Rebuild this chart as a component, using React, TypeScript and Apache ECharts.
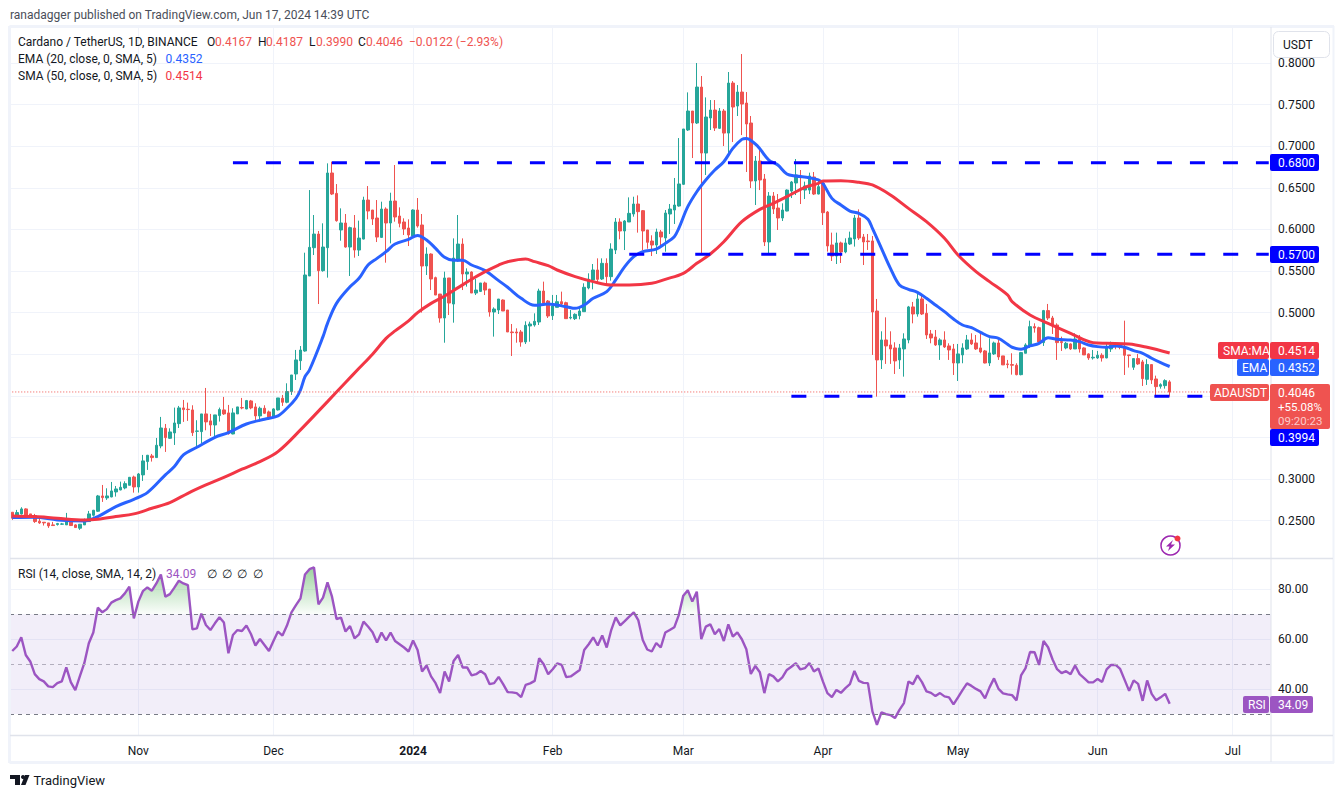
import React, { useEffect, useRef } from "react";
import * as echarts from "echarts";

// [open, close, low, high] per day, month by month
const octCandles = [
[.2600,.2528,.2508,.2600],[.2560,.2596,.2548,.2628],[.2580,.2640,.2572,.2660],[.2640,.2560,.2556,.2648],[.2580,.2540,.2536,.2580],[.2560,.2488,.2472,.2580],[.2492,.2472,.2460,.2536],[.2480,.2472,.2440,.2480],[.2472,.2436,.2412,.2472],[.2448,.2440,.2436,.2484],
[.2452,.2464,.2440,.2472],[.2456,.2460,.2448,.2472],[.2448,.2488,.2448,.2592],[.2508,.2440,.2436,.2516],[.2448,.2416,.2412,.2456],[.2408,.2456,.2388,.2456],[.2448,.2504,.2448,.2524],[.2488,.2580,.2488,.2616],[.2564,.2624,.2548,.2628],[.2612,.2796,.2604,.2808],
[.2796,.2776,.2724,.2928],[.2772,.2796,.2748,.2888],[.2784,.2856,.2780,.2964],[.2844,.2880,.2788,.2916],[.2868,.2900,.2864,.2968],[.2892,.2944,.2876,.2972],[.2924,.3020,.2924,.3024],[.3024,.2904,.2836,.3040],
];
const novCandles = [
[.2904,.3060,.2836,.3072],[.3049,.3217,.2976,.3289],[.3209,.3285,.3109,.3289],[.3277,.3257,.3209,.3301],[.3257,.3405,.3257,.3493],[.3397,.3613,.3369,.3746],[.3609,.3497,.3325,.3661],[.3489,.3565,.3481,.3609],[.3553,.3673,.3409,.3858],[.3665,.3854,.3613,.3878],
[.3854,.3834,.3686,.3950],[.3838,.3834,.3698,.3918],[.3830,.3557,.3517,.3886],[.3573,.3577,.3397,.3706],[.3569,.3782,.3429,.3782],[.3782,.3686,.3585,.4094],[.3698,.3649,.3517,.3782],[.3649,.3770,.3489,.3770],[.3762,.3834,.3690,.3858],[.3830,.3782,.3770,.3986],
[.3794,.3545,.3533,.3890],[.3541,.3794,.3537,.3850],[.3782,.3866,.3782,.3866],[.3858,.3854,.3838,.3974],[.3842,.3942,.3838,.3950],[.3938,.3854,.3838,.3950],[.3866,.3758,.3710,.3910],[.3758,.3850,.3690,.3870],[.3850,.3790,.3782,.3886],[.3806,.3746,.3710,.3822],
];
const decCandles = [
[.3742,.3842,.3738,.3850],[.3830,.3974,.3822,.3974],[.3970,.3922,.3878,.4010],[.3922,.4050,.3910,.4150],[.4050,.4250,.4010,.4250],[.4262,.4431,.4190,.4551],[.4422,.4550,.4310,.4598],[.4538,.5452,.4530,.5720],[.5440,.5784,.5440,.6473],[.5780,.5944,.5692,.6173],
[.5944,.5504,.5103,.5981],[.5504,.5788,.5492,.6073],[.5780,.6678,.5420,.6794],[.6678,.6425,.6413,.6814],[.6433,.6105,.6093,.6545],[.5993,.6077,.5864,.6253],[.6077,.5788,.5780,.6185],[.5788,.6021,.5440,.6033],[.6017,.5752,.5660,.6173],[.5752,.5896,.5680,.6105],
[.5884,.6353,.5880,.6393],[.6353,.6221,.6121,.6521],[.6233,.6125,.6053,.6233],[.6137,.5908,.5848,.6353],[.5904,.6245,.5900,.6333],[.6245,.6077,.5600,.6265],[.6077,.6341,.5832,.6441],[.6341,.6149,.6093,.6774],[.6161,.6073,.6025,.6265],[.6089,.6005,.5933,.6133],[.6017,.5933,.5800,.6121],
];
const janCandles = [
[.5920,.6233,.5912,.6241],[.6233,.6041,.6021,.6377],[.6053,.5560,.5000,.6185],[.5560,.5704,.5452,.5784],[.5704,.5404,.5271,.5712],[.5420,.5211,.5211,.5432],[.5223,.4935,.4879,.5223],[.4935,.5416,.4638,.5492],[.5416,.5115,.4971,.5416],[.5103,.5656,.4879,.5892],
[.5620,.5824,.5612,.6173],[.5824,.5464,.5271,.5892],[.5464,.5488,.5312,.5532],[.5488,.5235,.5235,.5496],[.5235,.5271,.5211,.5404],[.5255,.5356,.5247,.5356],[.5356,.5271,.5211,.5372],[.5283,.5007,.4951,.5283],[.5007,.5043,.4711,.5063],[.5031,.5163,.4983,.5163],
[.5151,.5019,.5019,.5159],[.5031,.4767,.4767,.5031],[.4767,.4759,.4478,.4863],[.4767,.4755,.4638,.4811],[.4767,.4647,.4590,.4791],[.4647,.4847,.4622,.4895],[.4839,.4863,.4650,.4891],[.4851,.4895,.4831,.4991],[.4887,.5259,.4851,.5287],[.5259,.5115,.5091,.5372],[.5139,.4959,.4935,.5151],
];
const febCandles = [
[.4963,.5079,.4911,.5212],[.5063,.5131,.5063,.5212],[.5131,.5103,.5071,.5252],[.5119,.4927,.4927,.5131],[.4935,.4943,.4919,.5031],[.4927,.4979,.4911,.4991],[.4963,.5019,.4919,.5071],[.5011,.5304,.5011,.5352],[.5296,.5400,.5280,.5472],[.5392,.5512,.5280,.5584],
[.5512,.5400,.5352,.5652],[.5404,.5592,.5392,.5652],[.5592,.5432,.5344,.5652],[.5432,.5764,.5384,.5833],[.5752,.6089,.5704,.6137],[.6089,.5981,.5881,.6133],[.5981,.6101,.5752,.6113],[.6089,.6193,.6089,.6385],[.6185,.6305,.6153,.6393],[.6305,.6213,.5961,.6409],
[.6225,.5981,.5752,.6233],[.5993,.5845,.5768,.5993],[.5860,.5812,.5680,.5929],[.5812,.5969,.5704,.6009],[.5969,.5909,.5792,.5993],[.5897,.6197,.5732,.6233],[.6185,.6245,.5945,.6305],[.6233,.6293,.6065,.6618],[.6281,.6546,.6273,.7098],
];
const marCandles = [
[.6542,.7207,.6534,.7207],[.7195,.7423,.7183,.7647],[.7423,.7279,.6858,.7423],[.7279,.7711,.7267,.8000],[.7711,.6918,.5704,.7844],[.6918,.7351,.6654,.7587],[.7339,.7435,.7195,.7555],[.7435,.7219,.7183,.7555],[.7215,.7423,.7207,.7459],[.7423,.7158,.7002,.7447],
[.7158,.7759,.6906,.7892],[.7759,.7471,.7050,.7783],[.7483,.7651,.7363,.7735],[.7651,.7507,.7134,.8108],[.7519,.7267,.6690,.7651],[.7279,.6582,.6497,.7363],[.6582,.6822,.6293,.6882],[.6822,.6594,.6473,.6982],[.6606,.5849,.5800,.6666],[.5849,.6401,.5704,.6449],
[.6401,.6245,.6185,.6449],[.6257,.6137,.5993,.6425],[.6137,.6233,.6101,.6313],[.6221,.6473,.6217,.6481],[.6461,.6570,.6377,.6582],[.6558,.6654,.6413,.6846],[.6642,.6634,.6305,.6714],[.6473,.6522,.6365,.6574],[.6473,.6642,.6425,.6682],[.6630,.6425,.6413,.6690],[.6425,.6514,.6421,.6602],
];
const aprCandles = [
[.6554,.6201,.6053,.6574],[.6209,.5801,.5733,.6221],[.5813,.5680,.5620,.5961],[.5680,.5837,.5584,.5961],[.5837,.5729,.5596,.5853],[.5729,.5837,.5713,.5893],[.5825,.5897,.5813,.5973],[.5885,.6137,.5793,.6173],[.6137,.5897,.5873,.6241],[.5909,.5849,.5572,.5945],
[.5861,.5853,.5753,.5945],[.5861,.5007,.4491,.5921],[.5019,.4431,.3990,.5164],[.4431,.4671,.4322,.4775],[.4671,.4599,.4383,.4943],[.4611,.4563,.4383,.4775],[.4575,.4419,.4262,.4643],[.4431,.4575,.4322,.4623],[.4563,.4683,.4230,.4751],[.4671,.5068,.4631,.5080],
[.5068,.4983,.4871,.5128],[.4983,.5164,.4951,.5224],[.5164,.4983,.4971,.5212],[.4991,.4731,.4683,.5104],[.4743,.4695,.4631,.4791],[.4707,.4611,.4599,.4791],[.4611,.4671,.4431,.4691],[.4671,.4587,.4575,.4775],[.4599,.4551,.4431,.4631],[.4563,.4394,.4250,.4623],
];
const mayCandles = [
[.4394,.4503,.4178,.4623],[.4491,.4575,.4391,.4631],[.4563,.4671,.4551,.4731],[.4671,.4623,.4611,.4751],[.4635,.4563,.4551,.4731],[.4575,.4527,.4511,.4751],[.4539,.4394,.4390,.4551],[.4394,.4515,.4358,.4691],[.4503,.4635,.4491,.4651],[.4635,.4467,.4431,.4671],
[.4479,.4371,.4371,.4479],[.4383,.4375,.4331,.4431],[.4375,.4367,.4254,.4511],[.4367,.4254,.4246,.4391],[.4254,.4519,.4246,.4527],[.4511,.4611,.4511,.4631],[.4599,.4831,.4575,.4903],[.4831,.4815,.4759,.4871],[.4819,.4647,.4639,.4831],[.4639,.5024,.4599,.5032],
[.5024,.4935,.4911,.5104],[.4935,.4839,.4743,.4960],[.4851,.4639,.4431,.4871],[.4651,.4639,.4539,.4711],[.4575,.4631,.4559,.4647],[.4623,.4563,.4551,.4631],[.4563,.4683,.4563,.4751],[.4683,.4563,.4519,.4731],[.4575,.4491,.4491,.4583],[.4503,.4455,.4431,.4511],[.4455,.4463,.4435,.4551],
];
const junCandles = [
[.4455,.4487,.4443,.4539],[.4487,.4455,.4411,.4511],[.4455,.4591,.4451,.4631],[.4563,.4611,.4527,.4651],[.4603,.4591,.4559,.4639],[.4599,.4583,.4559,.4631],[.4583,.4487,.4250,.4903],[.4491,.4483,.4339,.4491],[.4343,.4447,.4311,.4451],[.4447,.4383,.4371,.4503],
[.4407,.4206,.4118,.4431],[.4198,.4375,.4130,.4439],[.4375,.4190,.4142,.4375],[.4202,.4110,.3998,.4242],[.4114,.4134,.4086,.4150],[.4122,.4182,.4086,.4198],[.4167,.4046,.3990,.4187],
];

const rsiOct = [55.3,57.1,60.8,53.7,51.1,46.0,44.0,43.1,41.1,40.8,42.4,43.1,48.7,42.8,39.6,45.1,50.4,58.4,62.7,72.7,70.8,72.1,74.7,75.7,76.4,78.4,81.1,68.4];
const rsiNov = [75.1,79.3,80.8,79.5,82.4,86.0,77.1,78.1,80.7,83.5,82.4,81.7,64.0,64.4,70.3,65.7,63.7,66.4,68.8,66.7,54.4,61.7,63.7,63.3,65.5,62.1,57.5,60.1,57.7,55.3];
const rsiDec = [59.3,63.1,61.5,65.5,70.8,73.7,76.4,86.0,88.1,88.8,74.0,76.7,82.8,77.1,68.1,68.7,63.1,65.3,60.4,62.0,67.1,65.1,62.8,58.7,62.7,59.5,62.7,59.3,58.0,56.7,55.1];
const rsiJan = [59.5,55.7,47.1,49.5,45.1,42.4,38.4,47.1,43.1,51.3,53.7,48.7,48.7,45.5,46.0,47.3,46.0,42.0,42.4,44.9,42.0,38.8,38.7,38.4,36.8,41.7,42.3,43.3,52.4,50.0,46.0];
const rsiFeb = [48.0,50.3,49.7,44.8,45.1,46.4,47.7,55.7,58.0,60.8,57.5,61.5,56.7,63.7,68.8,65.6,67.3,69.1,70.8,67.7,59.7,55.9,55.1,58.5,56.7,62.7,63.7,64.8,69.7];
const rsiMar = [77.5,79.7,75.1,79.1,60.1,65.1,66.0,62.0,64.1,59.3,66.0,61.1,62.8,60.0,56.0,46.1,49.3,46.8,38.4,46.0,45.1,43.1,44.7,47.7,49.0,50.4,47.9,48.4,50.5,47.1,48.3];
const rsiApr = [43.1,38.4,36.8,39.7,38.5,40.4,42.0,47.3,43.3,42.5,42.4,31.1,25.7,30.7,30.0,29.6,28.4,31.7,34.4,43.1,42.0,45.5,42.8,39.1,38.5,37.2,38.4,37.1,36.7,33.9];
const rsiMay = [36.7,39.6,42.3,41.3,40.1,39.1,36.3,40.7,44.3,40.1,38.3,37.9,37.6,35.5,45.5,48.4,54.9,54.8,49.7,59.3,56.8,51.9,48.0,46.4,47.2,46.0,49.5,46.0,44.4,42.7,42.7];
const rsiJun = [44.1,42.9,47.9,49.7,49.7,48.1,43.7,39.3,43.5,42.1,35.3,43.5,38.1,35.5,36.7,38.1,34.09];

// [day index, value] read along the moving averages
const emaPoints = [
[0,.2536],[5,.2540],[10,.2508],[16,.2496],[19,.2548],[23,.2668],[27,.2756],[30,.2836],[34,.3049],[36,.3149],[38,.3289],[41,.3381],[45,.3501],[48,.3557],[52,.3661],[56,.3718],[59,.3758],[61,.3850],[63,.3970],[64,.4070],[65,.4230],[66,.4310],[69,.4711],[70,.4871],[72,.5111],[75,.5311],[77,.5412],[79,.5572],[81,.5652],[83,.5732],[85,.5824],[88,.5880],[90,.5928],[92,.5872],[94,.5772],[96,.5664],[98,.5628],[100,.5628],[102,.5572],[105,.5504],[108,.5384],[110,.5304],[113,.5171],[116,.5087],[119,.5103],[123,.5071],[125,.5051],[127,.5091],[129,.5172],[132,.5252],[134,.5392],[136,.5552],[138,.5672],[140,.5732],[143,.5764],[145,.5832],[147,.5913],[148,.6013],[150,.6273],[152,.6453],[154,.6594],[156,.6714],[158,.6814],[160,.6974],[162,.7082],[163,.7094],[165,.7026],[166,.6970],[168,.6834],[170,.6774],[172,.6666],[174,.6642],[177,.6622],[179,.6594],[180,.6554],[182,.6373],[184,.6293],[186,.6221],[188,.6193],[190,.6121],[191,.6013],[193,.5773],[195,.5532],[197,.5332],[199,.5280],[201,.5244],[203,.5172],[205,.5092],[207,.5011],[209,.4923],[211,.4851],[213,.4819],[215,.4763],[217,.4711],[219,.4691],[221,.4619],[222,.4583],[224,.4559],[226,.4599],[228,.4631],[230,.4699],[232,.4679],[235,.4671],[237,.4651],[239,.4611],[241,.4591],[243,.4583],[245,.4599],[247,.4583],[249,.4543],[251,.4511],[253,.4451],[255,.4399],[257,.4352],
];
const smaPoints = [
[0,.2556],[5,.2548],[10,.2528],[16,.2508],[19,.2516],[23,.2548],[27,.2580],[31,.2648],[35,.2716],[39,.2828],[43,.2928],[47,.3020],[51,.3117],[55,.3209],[59,.3329],[64,.3590],[70,.3930],[74,.4160],[77,.4330],[80,.4500],[83,.4690],[85,.4780],[88,.4900],[90,.5000],[93,.5111],[96,.5199],[99,.5300],[102,.5400],[105,.5492],[108,.5572],[110,.5612],[114,.5644],[116,.5612],[119,.5564],[121,.5512],[125,.5432],[129,.5372],[133,.5332],[137,.5332],[142,.5352],[145,.5400],[149,.5472],[152,.5592],[155,.5704],[158,.5852],[162,.6093],[166,.6241],[169,.6313],[172,.6393],[176,.6506],[179,.6554],[180,.6582],[184,.6586],[188,.6566],[191,.6534],[195,.6414],[199,.6253],[203,.6093],[207,.5893],[210,.5692],[214,.5492],[217,.5372],[221,.5212],[222,.5132],[226,.4972],[230,.4871],[235,.4751],[240,.4639],[243,.4631],[248,.4623],[252,.4583],[257,.4514],
];

const levelValues = [0.68, 0.57, 0.3994];
const levelStartDays = [49, 137, 173];
const lastClose = 0.4046;
const rsiGuides = [70, 50, 30];
const monthDays = [28, 58, 89, 120, 149, 180, 210, 241, 271];
const monthLabels = ["Nov", "Dec", "2024", "Feb", "Mar", "Apr", "May", "Jun", "Jul"];
const priceTicks = [0.25, 0.3, 0.35, 0.4, 0.45, 0.5, 0.55, 0.6, 0.65, 0.7, 0.75, 0.8];
const priceLabels = [0.25, 0.3, 0.5, 0.55, 0.6, 0.65, 0.7, 0.75, 0.8];
const rsiTicks = [40, 60, 80];

const FONT = "Roboto, sans-serif";
const UP = "#26a69a";
const DOWN = "#ef5350";
const INK = "#131722";
const PURPLE = "#9c55c2";
const GRID = "#f0f3fa";
const EDGE = "#e0e3eb";
const BAND_COUNT = 280;

const candles = [...octCandles, ...novCandles, ...decCandles, ...janCandles, ...febCandles, ...marCandles, ...aprCandles, ...mayCandles, ...junCandles];
const rsi = [...rsiOct, ...rsiNov, ...rsiDec, ...rsiJan, ...rsiFeb, ...rsiMar, ...rsiApr, ...rsiMay, ...rsiJun];
const days = Array.from({ length: BAND_COUNT }, (_, i) => String(i));
const isMonth = (i: number) => monthDays.includes(i);

const txt = (text: string, x: number, y: number, fill: string, size = 12, extra: any = {}) => ({
  type: "text", z: 120, x, y, silent: true,
  style: { text, fill, font: `${extra.weight || 400} ${size}px ${FONT}`, verticalAlign: "middle", align: extra.align || "left", opacity: extra.opacity ?? 1 },
});
const box = (x: number, y: number, width: number, height: number, fill: string, r: any = 0) => ({
  type: "rect", z: 110, silent: true, shape: { x, y, width, height, r }, style: { fill },
});
const rule = (x1: number, y1: number, x2: number, y2: number, stroke: string, lineWidth = 1) => ({
  type: "line", z: 105, silent: true, shape: { x1, y1, x2, y2 }, style: { stroke, lineWidth },
});

const overlays: any[] = [
  rule(9.5, 26.5, 1334, 26.5, GRID, 3),
  rule(9.5, 26, 9.5, 763, GRID, 3),
  rule(1333.5, 26, 1333.5, 763, GRID, 2),
  rule(9.5, 762.5, 1334, 762.5, GRID, 3),
  rule(1271, 27, 1271, 762, EDGE, 1),
  rule(10, 558.5, 1333, 558.5, EDGE, 1.5),
  rule(10, 735.5, 1333, 735.5, EDGE, 1.5),

  txt("ranadagger published on TradingView.com, Jun 17, 2024 14:39 UTC", 10, 15, "#4a4e59", 12),
  txt("Cardano / TetherUS, 1D, BINANCE", 18, 42, INK, 12),
  txt("O", 207, 42, INK, 12), txt("0.4167", 215, 42, DOWN, 12),
  txt("H", 258, 42, INK, 12), txt("0.4187", 266, 42, DOWN, 12),
  txt("L", 309, 42, INK, 12), txt("0.3990", 316, 42, DOWN, 12),
  txt("C", 358, 42, INK, 12), txt("0.4046", 366, 42, DOWN, 12),
  txt("\u22120.0122 (\u22122.93%)", 409, 42, DOWN, 12),
  txt("EMA (20, close, 0, SMA, 5)", 18, 59, INK, 12), txt("0.4352", 165.5, 59, "#2962ff", 12),
  txt("SMA (50, close, 0, SMA, 5)", 18, 76, INK, 12), txt("0.4514", 165.5, 76, "#f23645", 12),
  txt("RSI (14, close, SMA, 14, 2)", 18, 574, INK, 12), txt("34.09", 166, 574, PURPLE, 12),
  txt("\u2205", 207, 574, INK, 12), txt("\u2205", 222, 574, INK, 12), txt("\u2205", 237, 574, INK, 12), txt("\u2205", 253, 574, INK, 12),

  { type: "rect", z: 115, silent: true, shape: { x: 1273.5, y: 31.5, width: 56, height: 26, r: 5 }, style: { fill: "#fff", stroke: EDGE, lineWidth: 1 } },
  txt("USDT", 1283, 45, INK, 12),

  box(1270, 154, 49, 17, "#0000ff", 2), txt("0.6800", 1278, 162.5, "#fff", 12),
  box(1270, 246, 49, 17, "#0000ff", 2), txt("0.5700", 1278, 254.5, "#fff", 12),
  box(1218, 342, 51, 17, "#f23645", 2), txt("SMA:MA", 1223, 350.5, "#fff", 12),
  box(1270, 342, 49, 17, "#f23645", 2), txt("0.4514", 1278, 350.5, "#fff", 12),
  box(1237, 359, 32, 17, "#2962ff", 2), txt("EMA", 1242, 367.5, "#fff", 12),
  box(1270, 359, 49, 17, "#2962ff", 2), txt("0.4352", 1278, 367.5, "#fff", 12),
  box(1210, 384, 59, 17, DOWN, 2), txt("ADAUSDT", 1214, 392.5, "#fff", 12),
  box(1270, 384, 60, 45, DOWN, 2), txt("0.4046", 1278, 392.5, "#fff", 12),
  txt("+55.08%", 1278, 406.5, "#fff", 11.5), txt("09:20:23", 1278, 421, "#fff", 11.5, { opacity: 0.7 }),
  box(1270, 429, 49, 17, "#0000ff", 2), txt("0.3994", 1278, 437.5, "#fff", 12),
  box(1243, 696, 26, 17, PURPLE, 2), txt("RSI", 1248, 704.5, "#fff", 12),
  box(1270, 696, 43, 17, PURPLE, 2), txt("34.09", 1278, 704.5, "#fff", 12),

  { type: "circle", z: 110, silent: true, shape: { cx: 1170.5, cy: 545.5, r: 9.5 }, style: { fill: "#fff", stroke: "#9c27b0", lineWidth: 1.5 } },
  { type: "polygon", z: 111, silent: true, shape: { points: [[1173, 540], [1166, 546.5], [1169.5, 546.5], [1168, 551], [1175, 544.5], [1171, 544.5]] }, style: { fill: "#9c27b0" } },
  { type: "circle", z: 112, silent: true, shape: { cx: 1177.5, cy: 538.5, r: 3 }, style: { fill: "#f23645" } },

  { type: "polygon", z: 110, silent: true, shape: { points: [[10, 775], [20, 775], [20, 785], [15, 785], [15, 779], [10, 779]] }, style: { fill: INK } },
  { type: "circle", z: 110, silent: true, shape: { cx: 23, cy: 777, r: 2 }, style: { fill: INK } },
  { type: "polygon", z: 110, silent: true, shape: { points: [[25, 775], [29.5, 775], [25.5, 785], [21, 785]] }, style: { fill: INK } },
  txt("TradingView", 33.5, 780.5, INK, 13),
];

export default function App() {
  const ref = useRef<HTMLDivElement>(null);
  useEffect(() => {
    const chart = echarts.init(ref.current!, undefined, { renderer: "svg" });
    const levelSeries = levelValues.map((v, k) => ({
      type: "line", xAxisIndex: 0, yAxisIndex: 0, symbol: "none", silent: true, z: 5,
      data: [[levelStartDays[k], v], [BAND_COUNT - 1, v]],
      lineStyle: { color: "#0000ff", width: 3, type: [15, 18] },
    }));
    const sharedX = {
      type: "category", data: days, boundaryGap: true,
      axisLine: { show: false }, axisTick: { show: false },
      splitLine: { show: true, alignWithLabel: true, interval: (i: number) => isMonth(i), lineStyle: { color: GRID, width: 1 } },
    };
    chart.setOption({
      animation: false,
      backgroundColor: "#ffffff",
      textStyle: { fontFamily: FONT },
      grid: [
        { left: 10, width: 1261, top: 27, height: 531 },
        { left: 10, width: 1261, top: 558.5, height: 177 },
      ],
      xAxis: [
        { ...sharedX, gridIndex: 0, axisLabel: { show: false } },
        {
          ...sharedX, gridIndex: 1,
          axisTick: { show: false, alignWithLabel: true, interval: (i: number) => isMonth(i) },
          axisLabel: {
            show: true, margin: 9, fontSize: 12, color: INK, hideOverlap: false,
            interval: (i: number) => isMonth(i),
            formatter: (_: string, i: number) => {
              const label = monthLabels[monthDays.indexOf(i)] ?? "";
              return label === "2024" ? `{b|${label}}` : label;
            },
            rich: { b: { fontWeight: 700, fontSize: 12, color: INK, fontFamily: FONT } },
          },
        },
      ],
      yAxis: [
        {
          type: "value", gridIndex: 0, position: "right", min: 0.205, max: 0.8433, scale: true,
          axisLine: { show: false },
          axisTick: { show: false, customValues: priceTicks },
          axisLabel: { customValues: priceLabels, margin: 7, fontSize: 12, color: INK, formatter: (v: number) => v.toFixed(4) },
          splitLine: { show: true, lineStyle: { color: GRID, width: 1 } },
        },
        {
          type: "value", gridIndex: 1, position: "right", min: 21.4, max: 92.4,
          axisLine: { show: false },
          axisTick: { show: false, customValues: rsiTicks },
          axisLabel: { customValues: rsiTicks, margin: 7, fontSize: 12, color: INK, formatter: (v: number) => v.toFixed(2) },
          splitLine: { show: true, lineStyle: { color: GRID, width: 1 } },
        },
      ],
      series: [
        {
          type: "candlestick", xAxisIndex: 0, yAxisIndex: 0, data: candles, barWidth: 3, z: 2,
          itemStyle: { color: UP, color0: DOWN, borderColor: UP, borderColor0: DOWN, borderWidth: 1 },
        },
        {
          type: "line", xAxisIndex: 0, yAxisIndex: 0, data: emaPoints, symbol: "none", smooth: 0.35, z: 3,
          lineStyle: { color: "#2962ff", width: 3 },
        },
        {
          type: "line", xAxisIndex: 0, yAxisIndex: 0, data: smaPoints, symbol: "none", smooth: 0.35, z: 4,
          lineStyle: { color: "#f23645", width: 3 },
        },
        ...levelSeries,
        {
          type: "line", xAxisIndex: 0, yAxisIndex: 0, symbol: "none", silent: true, z: 4,
          data: [[0, lastClose], [BAND_COUNT - 1, lastClose]],
          lineStyle: { color: DOWN, width: 1, type: [1, 2] },
        },
        {
          type: "line", xAxisIndex: 1, yAxisIndex: 1, symbol: "none", silent: true, z: 2,
          data: rsi.map((v) => Math.max(v, rsiGuides[0])),
          lineStyle: { width: 0, opacity: 0 },
          areaStyle: {
            origin: rsiGuides[0], opacity: 1,
            color: new echarts.graphic.LinearGradient(0, 0, 0, 1, [
              { offset: 0, color: "rgba(76,175,80,0.55)" },
              { offset: 1, color: "rgba(76,175,80,0.02)" },
            ]),
          },
        },
        {
          type: "line", xAxisIndex: 1, yAxisIndex: 1, data: rsi, symbol: "none", z: 3, silent: true,
          lineStyle: { color: PURPLE, width: 2.4 },
          markArea: {
            silent: true, itemStyle: { color: "rgba(126,87,194,0.1)" },
            data: [[{ yAxis: rsiGuides[2] }, { yAxis: rsiGuides[0] }]],
          },
          markLine: {
            silent: true, symbol: "none", label: { show: false },
            data: rsiGuides.map((v, k) => ({
              yAxis: v,
              lineStyle: { color: k === 1 ? "#b2aebd" : "#787b86", width: 1, type: [4, 4] },
            })),
          },
        },
      ],
      graphic: { elements: overlays },
    });
    return () => chart.dispose();
  }, []);
  return <div ref={ref} style={{ position: "absolute", left: 0, top: 0, width: 1344, height: 798 }} />;
}
